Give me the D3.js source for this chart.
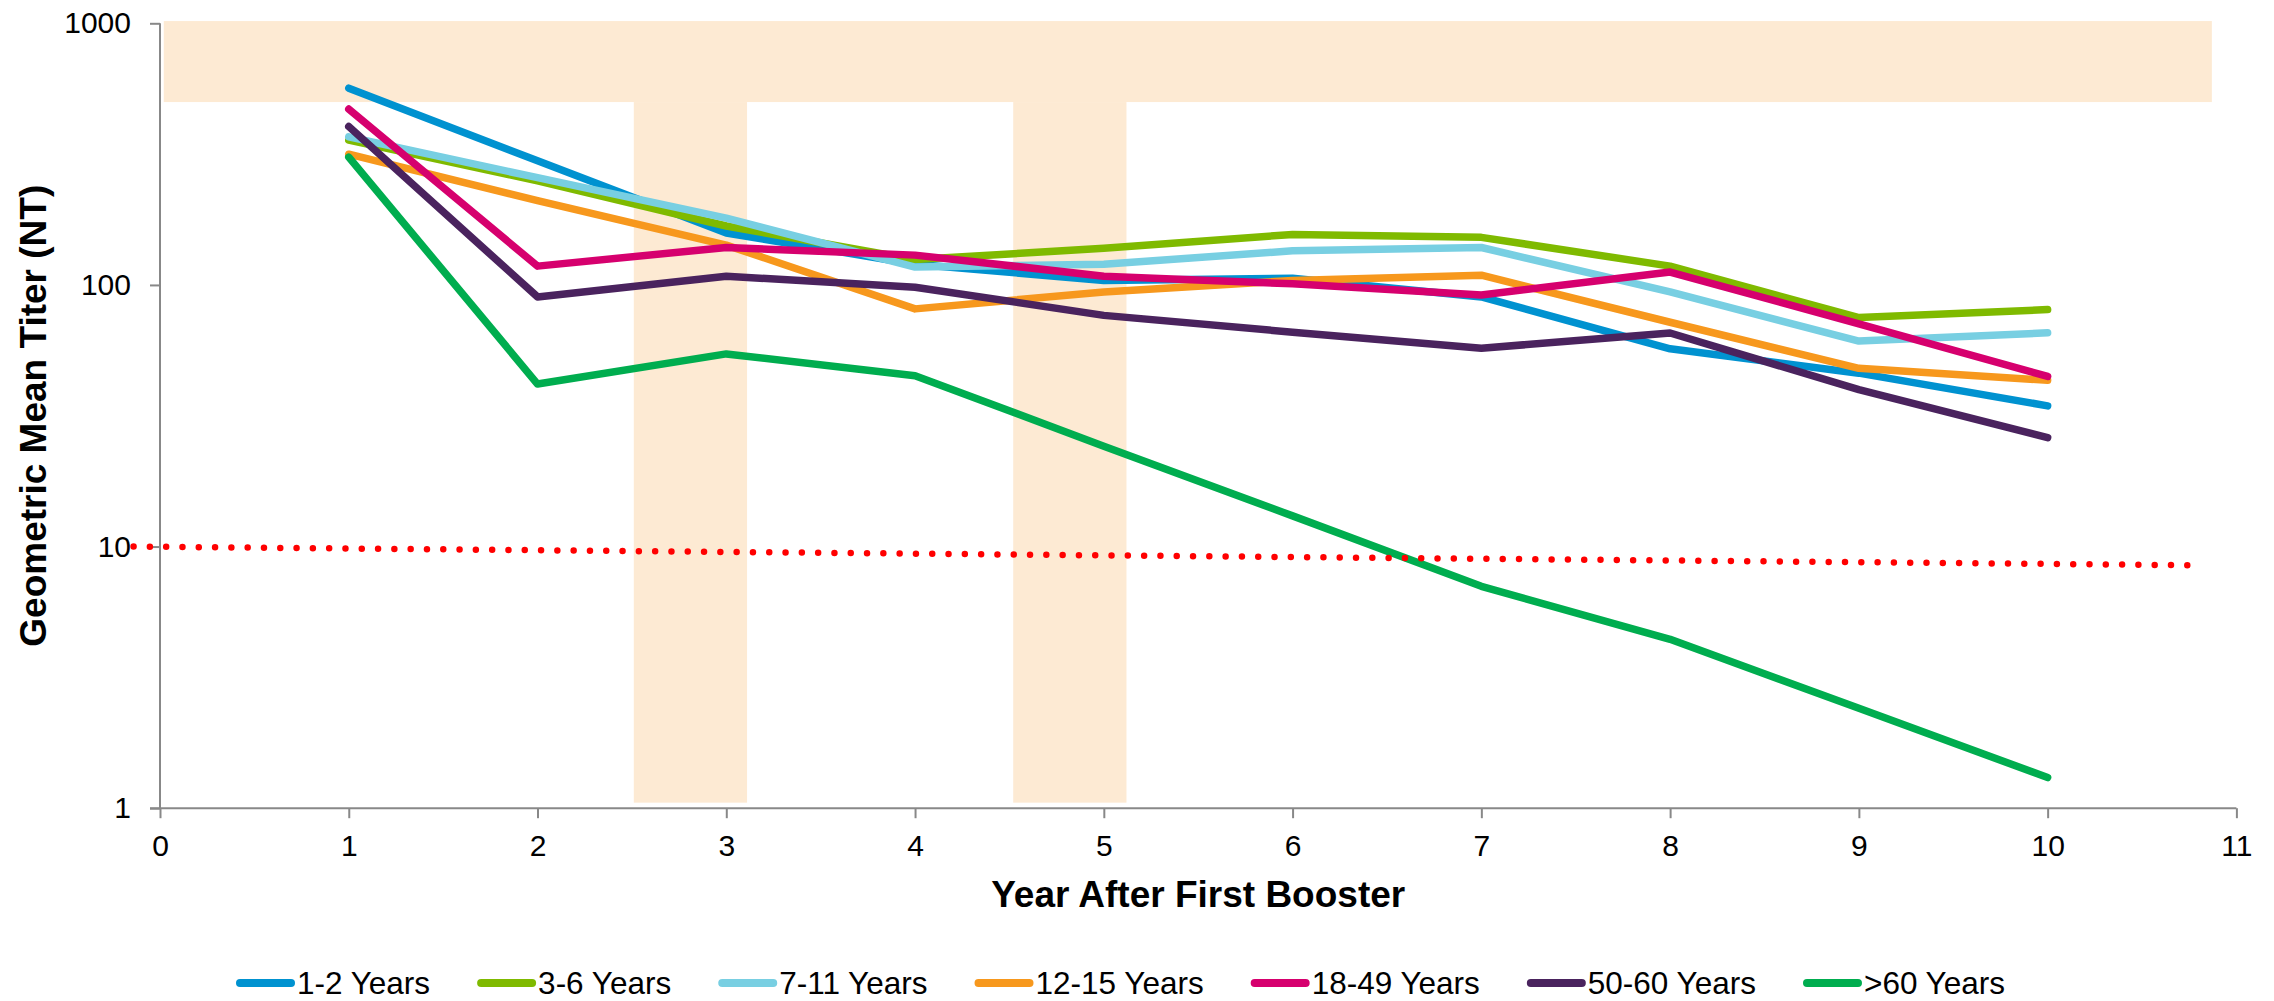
<!DOCTYPE html>
<html>
<head>
<meta charset="utf-8">
<script src="https://cdn.jsdelivr.net/npm/d3@7"></script>
<style>
  html, body { margin: 0; padding: 0; background: #fff; }
  svg { display: block; }
  text { font-family: "Liberation Sans", Arial, Helvetica, sans-serif; fill: #000; }
</style>
</head>
<body>
<svg id="chart" width="2274" height="1001"></svg>
<script>
// Years after first booster
const years = [1, 2, 3, 4, 5, 6, 7, 8, 9, 10];

// Geometric mean titers per age group
const seriesNames = ["1-2 Years", "3-6 Years", "7-11 Years", "12-15 Years", "18-49 Years", "50-60 Years", ">60 Years"];
const gmt1to2   = [565, 298, 158, 120, 104, 106, 90, 57, 46, 34.5];
const gmt3to6   = [358, 250, 168, 125, 138, 156, 152, 118, 75, 80.5];
const gmt7to11  = [368, 257, 180, 117, 120, 135, 139, 94, 61, 65.6];
const gmt12to15 = [316, 210, 142, 81, 94, 104, 109, 72, 48, 43.2];
const gmt18to49 = [470, 118, 139, 130, 108, 101, 91.5, 112, 71, 44.7];
const gmt50to60 = [403, 90, 108, 98, 76.5, 66, 57.3, 65.5, 39.8, 26.1];
const gmtOver60 = [308, 41.8, 54.5, 45, 24.2, 13.1, 7.05, 4.42, 2.41, 1.31];
const seriesColors = ["#0092d0", "#7fba00", "#78cfe2", "#f7981d", "#d6006e", "#4a235e", "#00ad4f"];

// Tick values
const xTicks = [0, 1, 2, 3, 4, 5, 6, 7, 8, 9, 10, 11];
const yTicks = [1, 10, 100, 1000];

// Shaded regions (year range, titer range)
const shadeRegions = [
  { x0: 0.02, x1: 10.87, v0: 500, v1: 1020 },
  { x0: 2.51, x1: 3.11, v0: 1.05, v1: 500 },
  { x0: 4.52, x1: 5.12, v0: 1.05, v1: 500 }
];

// Dotted reference trend: [year, titer] endpoints
const referenceLine = [[-0.14, 10], [10.81, 8.48]];

const series = [gmt1to2, gmt3to6, gmt7to11, gmt12to15, gmt18to49, gmt50to60, gmtOver60]
  .map((vals, i) => ({ name: seriesNames[i], color: seriesColors[i], values: vals }));

const svg = d3.select("#chart");

const x = d3.scaleLinear().domain([0, 11]).range([160, 2236.4]);
const y = d3.scaleLog().domain([1, 1000]).range([808.2, 23.3]);

// shaded background
svg.append("g").selectAll("rect")
  .data(shadeRegions)
  .join("rect")
  .attr("x", d => x(d.x0))
  .attr("width", d => x(d.x1) - x(d.x0))
  .attr("y", d => y(d.v1))
  .attr("height", d => y(d.v0) - y(d.v1))
  .attr("fill", "#fdead3");

// axes
const axisColor = "#888888";
const yAxis = svg.append("g")
  .attr("transform", `translate(${x(0)},0)`)
  .call(d3.axisLeft(y).tickValues(yTicks).tickFormat(d3.format("d")).tickSize(10).tickPadding(19));
const xAxis = svg.append("g")
  .attr("transform", `translate(0,${y(1)})`)
  .call(d3.axisBottom(x).tickValues(xTicks).tickFormat(d3.format("d")).tickSize(10).tickPadding(17));

[xAxis, yAxis].forEach(g => {
  g.select(".domain").attr("stroke", axisColor).attr("stroke-width", 2);
  g.selectAll(".tick line").attr("stroke", axisColor).attr("stroke-width", 2);
  g.selectAll(".tick text")
    .attr("font-size", 30)
    .attr("font-family", "'Liberation Sans', Arial, sans-serif")
    .attr("fill", "#000");
});
// x-axis line extends left to meet the y tick marks
xAxis.select(".domain").attr("d", `M${x(0) - 10},0H${x(11)}`);
yAxis.select(".domain").attr("d", `M0,${y(1000)}V${y(1)}`);

// series lines
const line = d3.line()
  .x((d, i) => x(years[i]))
  .y(d => y(d));

svg.append("g").selectAll("path")
  .data(series)
  .join("path")
  .attr("d", d => line(d.values))
  .attr("fill", "none")
  .attr("stroke", d => d.color)
  .attr("stroke-width", 7.5)
  .attr("stroke-linecap", "round")
  .attr("stroke-linejoin", "round");

// dotted reference line
svg.append("path")
  .attr("d", d3.line().x(d => x(d[0])).y(d => y(d[1]))(referenceLine))
  .attr("fill", "none")
  .attr("stroke", "#ff0000")
  .attr("stroke-width", 6.5)
  .attr("stroke-linecap", "round")
  .attr("stroke-dasharray", "0 16.3");

// axis titles
svg.append("text")
  .attr("x", (x(0) + x(11)) / 2)
  .attr("y", 907)
  .attr("text-anchor", "middle")
  .attr("font-size", 37)
  .attr("font-weight", "bold")
  .text("Year After First Booster");

svg.append("text")
  .attr("transform", `translate(46,${(y(1) + y(1000)) / 2}) rotate(-90)`)
  .attr("text-anchor", "middle")
  .attr("font-size", 37)
  .attr("font-weight", "bold")
  .text("Geometric Mean Titer (NT)");

// legend
const legend = svg.append("g");
let lx = 236;
const ly = 983;
series.forEach(s => {
  const item = legend.append("g");
  item.append("line")
    .attr("x1", lx + 4).attr("x2", lx + 55)
    .attr("y1", ly).attr("y2", ly)
    .attr("stroke", s.color)
    .attr("stroke-width", 8)
    .attr("stroke-linecap", "round");
  const t = item.append("text")
    .attr("x", lx + 61)
    .attr("y", ly + 11)
    .attr("font-size", 31.5)
    .text(s.name);
  lx += 61 + t.node().getComputedTextLength() + 47;
});
</script>
</body>
</html>
